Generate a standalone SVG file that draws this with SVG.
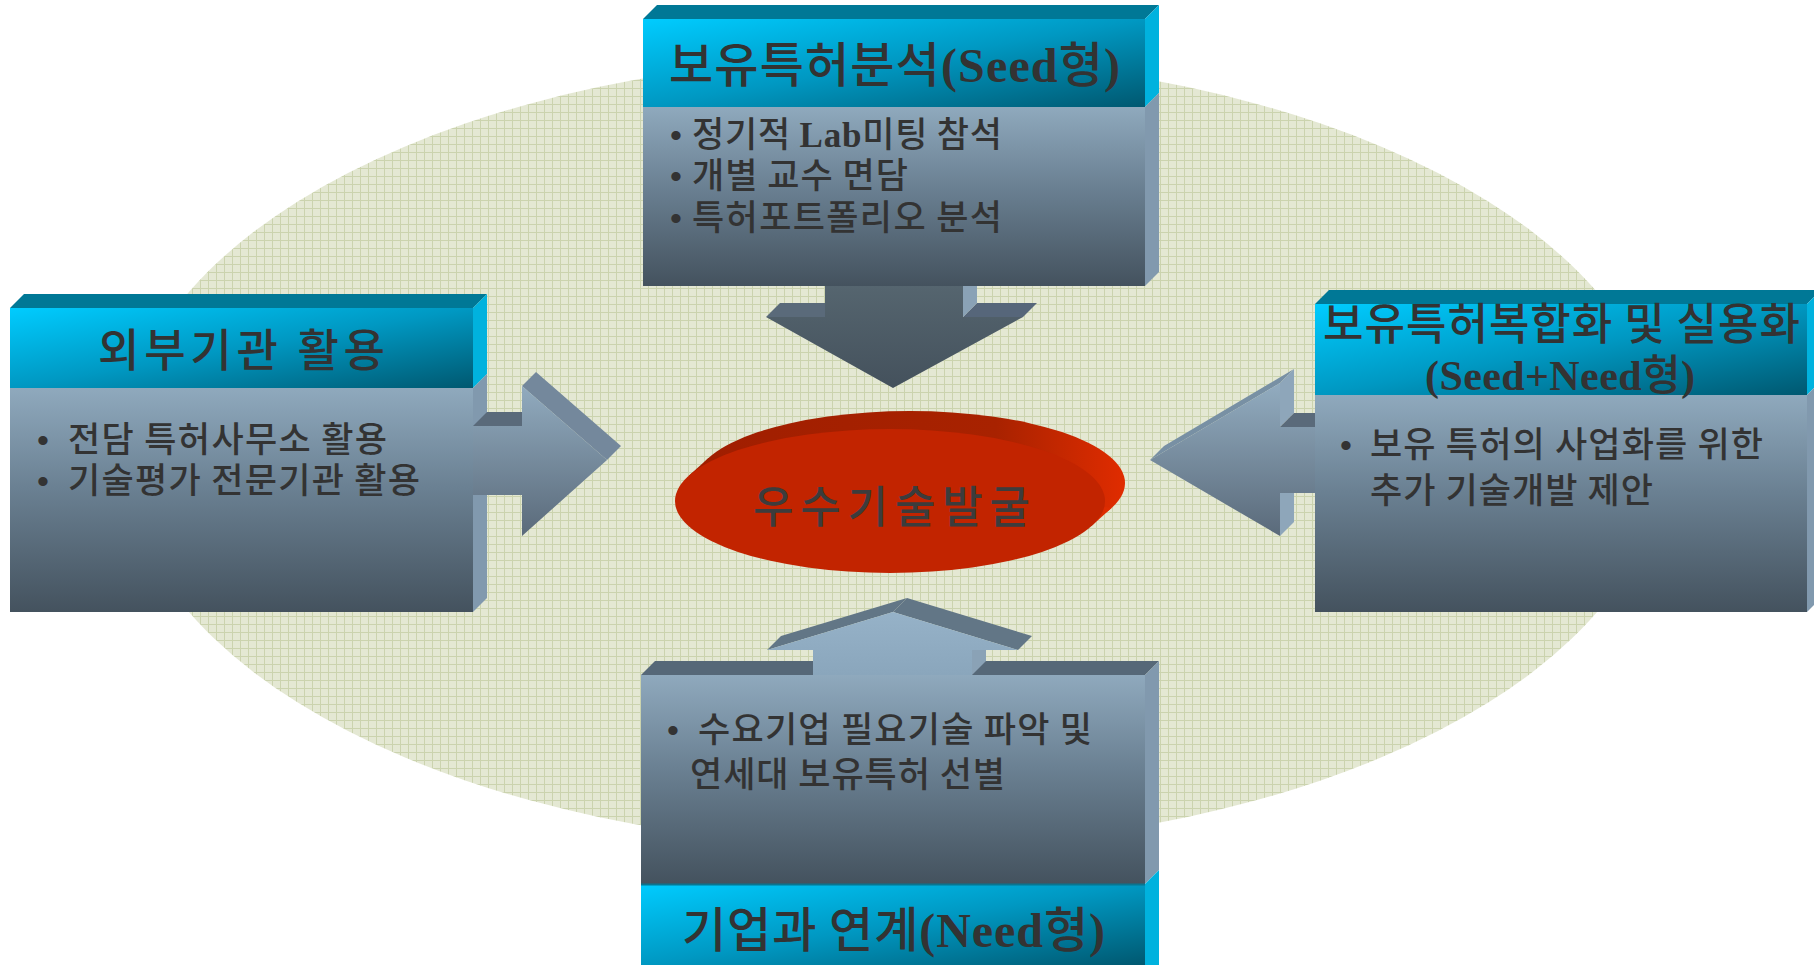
<svg xmlns="http://www.w3.org/2000/svg" width="1814" height="965" viewBox="0 0 1814 965">
<defs>
<style>
.ko{font-family:"Noto Sans CJK KR","Noto Sans CJK SC",sans-serif;font-weight:500}
.tb{font-family:"Liberation Serif","Noto Sans CJK KR",serif;font-weight:bold}
.t{fill:#333333}
.bul{font-family:"Liberation Sans",sans-serif;fill:#333333;font-size:34px}
.body{font-size:35px}
.hdrTop{fill:#007896}
.hdrSide{fill:#00b2de}
.bodySide{fill:#8199ae}
.bodyTop{fill:#566878}
.shaftTop{fill:#5a6a7a}
.lightFace{fill:#8aa2b6}
</style>
<pattern id="grid" width="8" height="8" patternUnits="userSpaceOnUse">
<rect width="8" height="8" fill="#e4e8d3"/>
<path d="M0 0.5H8M0.5 0V8" stroke="#cbd3ae" stroke-width="1"/>
</pattern>
<linearGradient id="gHdr" x1="0" y1="0" x2="1" y2="1">
<stop offset="0" stop-color="#00ccff"/>
<stop offset="0.5" stop-color="#0098c2"/>
<stop offset="1" stop-color="#005870"/>
</linearGradient>
<linearGradient id="gBody" x1="0" y1="0" x2="0" y2="1">
<stop offset="0" stop-color="#8fa9bd"/>
<stop offset="0.45" stop-color="#6a8092"/>
<stop offset="1" stop-color="#44525e"/>
</linearGradient>
<linearGradient id="gDown" gradientUnits="userSpaceOnUse" x1="0" y1="286" x2="0" y2="388">
<stop offset="0" stop-color="#55656f"/>
<stop offset="1" stop-color="#44515c"/>
</linearGradient>
<linearGradient id="gSide" gradientUnits="userSpaceOnUse" x1="0" y1="383" x2="0" y2="536">
<stop offset="0" stop-color="#92acc0"/>
<stop offset="1" stop-color="#5a6a7a"/>
</linearGradient>
<linearGradient id="gUp" gradientUnits="userSpaceOnUse" x1="0" y1="612" x2="0" y2="675">
<stop offset="0" stop-color="#96b2c8"/>
<stop offset="1" stop-color="#8aa6bc"/>
</linearGradient>
<linearGradient id="gDisc" x1="0" y1="0" x2="1" y2="0">
<stop offset="0" stop-color="#a01e00"/>
<stop offset="0.7" stop-color="#a82200"/>
<stop offset="1" stop-color="#e02c00"/>
</linearGradient>
</defs>

<ellipse id="background" cx="893" cy="452" rx="770" ry="395" fill="url(#grid)"/>

<g id="node-top">
<polygon class="hdrTop" points="643,19 657,5 1159,5 1145,19"/>
<polygon class="hdrSide" points="1145,19 1159,5 1159,93 1145,107"/>
<polygon class="bodySide" points="1145,107 1159,93 1159,272 1145,286"/>
<rect x="643" y="19" width="502" height="88" fill="url(#gHdr)"/>
<rect x="643" y="107" width="502" height="179" fill="url(#gBody)"/>
<text class="t" x="669" y="82" font-size="48" textLength="451" lengthAdjust="spacing"><tspan class="ko">보유특허분석</tspan><tspan class="tb">(Seed</tspan><tspan class="ko">형</tspan><tspan class="tb">)</tspan></text>
<text class="bul" x="670" y="147">•</text>
<text class="bul" x="670" y="188">•</text>
<text class="bul" x="670" y="230">•</text>
<text class="t ko body" x="692" y="147" textLength="310" lengthAdjust="spacing">정기적 <tspan class="tb">Lab</tspan>미팅 참석</text>
<text class="t ko body" x="692" y="188" textLength="216" lengthAdjust="spacing">개별 교수 면담</text>
<text class="t ko body" x="692" y="230" textLength="310" lengthAdjust="spacing">특허포트폴리오 분석</text>
</g>

<g id="node-left">
<polygon class="hdrTop" points="10,308 24,294 487,294 473,308"/>
<polygon class="hdrSide" points="473,308 487,294 487,374 473,388"/>
<polygon class="bodySide" points="473,388 487,374 487,598 473,612"/>
<rect x="10" y="308" width="463" height="80" fill="url(#gHdr)"/>
<rect x="10" y="388" width="463" height="224" fill="url(#gBody)"/>
<text class="t ko" x="98" y="367" font-size="45" textLength="287" lengthAdjust="spacing">외부기관 활용</text>
<text class="bul" x="37" y="452">•</text>
<text class="bul" x="37" y="493">•</text>
<text class="t ko body" x="68" y="452" textLength="319" lengthAdjust="spacing">전담 특허사무소 활용</text>
<text class="t ko body" x="68" y="493" textLength="352" lengthAdjust="spacing">기술평가 전문기관 활용</text>
</g>

<g id="node-right">
<polygon class="hdrTop" points="1315,304 1329,290 1821,290 1807,304"/>
<polygon class="hdrSide" points="1807,304 1821,290 1821,381 1807,395"/>
<polygon class="bodySide" points="1807,395 1821,381 1821,598 1807,612"/>
<rect x="1315" y="304" width="492" height="91" fill="url(#gHdr)"/>
<rect x="1315" y="395" width="492" height="217" fill="url(#gBody)"/>
<text class="t ko" x="1323" y="340" font-size="44" textLength="477" lengthAdjust="spacing">보유특허복합화 및 실용화</text>
<text class="t" x="1425" y="390" font-size="42" textLength="270" lengthAdjust="spacing"><tspan class="tb">(Seed+Need</tspan><tspan class="ko">형</tspan><tspan class="tb">)</tspan></text>
<text class="bul" x="1340" y="457">•</text>
<text class="t ko body" x="1370" y="457" textLength="393" lengthAdjust="spacing">보유 특허의 사업화를 위한</text>
<text class="t ko body" x="1370" y="503" textLength="283" lengthAdjust="spacing">추가 기술개발 제안</text>
</g>

<g id="node-bottom">
<polygon class="bodyTop" points="641,675 655,661 1159,661 1145,675"/>
<polygon class="bodySide" points="1145,675 1159,661 1159,870 1145,884"/>
<polygon class="hdrSide" points="1145,884 1159,870 1159,965 1145,965"/>
<rect x="641" y="675" width="504" height="209" fill="url(#gBody)"/>
<rect x="641" y="884" width="504" height="81" fill="url(#gHdr)"/>
<line x1="641" y1="884.5" x2="1145" y2="884.5" stroke="#0a7590" stroke-width="2"/>
<text class="bul" x="667" y="742">•</text>
<text class="t ko body" x="698" y="742" textLength="394" lengthAdjust="spacing">수요기업 필요기술 파악 및</text>
<text class="t ko body" x="690" y="787" textLength="315" lengthAdjust="spacing">연세대 보유특허 선별</text>
<text class="t" x="682" y="947" font-size="48" textLength="423" lengthAdjust="spacing"><tspan class="ko">기업과 연계</tspan><tspan class="tb">(Need</tspan><tspan class="ko">형</tspan><tspan class="tb">)</tspan></text>
</g>

<g id="connectors">
<g id="arrow-down">
<polygon class="shaftTop" points="766,317 780,303 825,303 825,317"/>
<polygon fill="#56667a" points="963,317 977,303 1037,303 1023,317"/>
<polygon class="lightFace" points="963,286 977,286 977,303 963,317"/>
<polygon fill="url(#gDown)" points="825,286 963,286 963,317 1023,317 893,388 766,317 825,317"/>
</g>
<g id="arrow-left-to-center">
<polygon class="shaftTop" points="473,426 487,412 522,412 522,426"/>
<polygon fill="#74889c" points="522,386 536,372 621,446 607,460"/>
<polygon fill="url(#gSide)" points="473,426 522,426 522,386 607,460 522,536 522,495 473,495"/>
</g>
<g id="arrow-right-to-center">
<polygon fill="#7890a4" points="1150,460 1164,446 1294,369 1280,383"/>
<polygon fill="#8ea6ba" points="1280,383 1294,369 1294,413 1280,427"/>
<polygon class="shaftTop" points="1280,427 1294,413 1315,413 1315,427"/>
<polygon fill="#8ea6ba" points="1280,493 1294,479 1294,522 1280,536"/>
<polygon fill="url(#gSide)" points="1315,427 1280,427 1280,383 1150,460 1280,536 1280,493 1315,493"/>
</g>
<g id="arrow-up">
<polygon fill="#627686" points="767,650 781,636 907,598 893,612"/>
<polygon fill="#627686" points="893,612 907,598 1032,636 1018,650"/>
<polygon class="lightFace" points="972,650 986,650 986,661 972,675"/>
<polygon fill="url(#gUp)" points="813,675 813,650 767,650 893,612 1018,650 972,650 972,675"/>
</g>
</g>

<g id="node-center">
<ellipse cx="910" cy="483" rx="215" ry="72" fill="url(#gDisc)"/>
<polygon fill="url(#gDisc)" points="688.5,475.9 708.5,457.9 1111.5,508.1 1091.5,526.1"/>
<ellipse cx="890" cy="501" rx="215" ry="72" fill="#c22400"/>
<text class="ko" x="753" y="523" font-size="44" textLength="277" lengthAdjust="spacing" fill="#3c3c3c">우수기술발굴</text>
</g>
</svg>
